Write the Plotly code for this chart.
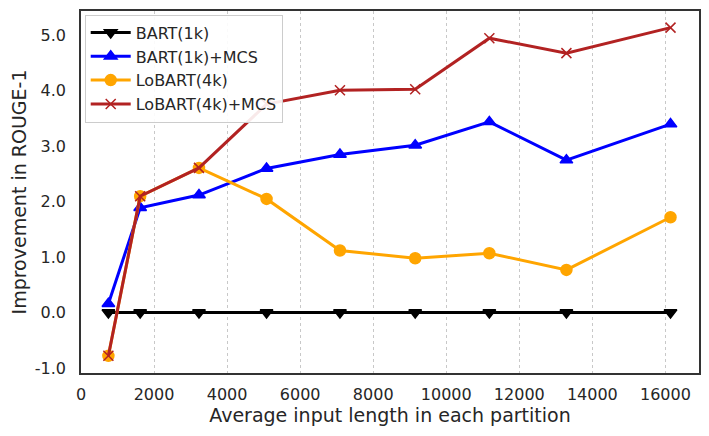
import plotly.graph_objects as go

# Average input length per partition
lengths = [750, 1620, 3230, 5080, 7090, 9150, 11180, 13290, 16140]

# Improvement in ROUGE-1 for each system
bart_1k = [0, 0, 0, 0, 0, 0, 0, 0, 0]
bart_1k_mcs = [0.16, 1.89, 2.12, 2.60, 2.85, 3.02, 3.44, 2.75, 3.40]
lobart_4k = [-0.78, 2.10, 2.61, 2.05, 1.12, 0.98, 1.07, 0.77, 1.72]
lobart_4k_mcs = [-0.78, 2.10, 2.61, 3.76, 4.01, 4.03, 4.95, 4.68, 5.14]

x_ticks = [0, 2000, 4000, 6000, 8000, 10000, 12000, 14000, 16000]
y_ticks = [-1, 0, 1, 2, 3, 4, 5]
y_tick_labels = ["-1.0", "0.0", "1.0", "2.0", "3.0", "4.0", "5.0"]

series = [
    ("BART(1k)", bart_1k, "black", "triangle-down", 11),
    ("BART(1k)+MCS", bart_1k_mcs, "blue", "triangle-up", 11),
    ("LoBART(4k)", lobart_4k, "orange", "circle", 11),
    ("LoBART(4k)+MCS", lobart_4k_mcs, "firebrick", "x-thin", 10),
]

fig = go.Figure()
for name, values, color, symbol, size in series:
    fig.add_trace(go.Scatter(
        x=lengths, y=values, name=name, mode="lines+markers",
        line=dict(color=color, width=3),
        marker=dict(symbol=symbol, size=size, color=color,
                    line=dict(color=color, width=1.5)),
    ))

# page sits a few px off, so margins are nudged to land the axes where the original has them
fig.update_layout(
    width=709, height=436,
    margin=dict(l=73, r=18, t=3, b=71),
    paper_bgcolor="white", plot_bgcolor="white",
    font=dict(family="DejaVu Sans", size=16, color="#262626"),
    legend=dict(x=0.006, y=0.99, xanchor="left", yanchor="top",
                bgcolor="rgba(255,255,255,0.9)", bordercolor="#cccccc",
                borderwidth=1, font=dict(size=16), tracegroupgap=0,
                itemwidth=40),
)
fig.update_xaxes(
    range=[0, 16920], tickvals=x_ticks, ticktext=[str(v) for v in x_ticks],
    showgrid=True, gridcolor="#c8c8c8", griddash="dot", gridwidth=1,
    zeroline=False, showline=True, linecolor="#333333", linewidth=1.5,
    mirror=True, ticks="", automargin=False, ticklabelstandoff=6,
    title=dict(text="Average input length in each partition", standoff=2),
)
fig.update_yaxes(
    range=[-1.09, 5.44], tickvals=y_ticks, ticktext=y_tick_labels,
    showgrid=False, zeroline=False, showline=True, linecolor="#333333",
    linewidth=1.5, mirror=True, ticks="", ticklabelstandoff=10,
    automargin=False,
    title=dict(text="Improvement in ROUGE-1", standoff=4),
)

fig.write_html("out.html")
